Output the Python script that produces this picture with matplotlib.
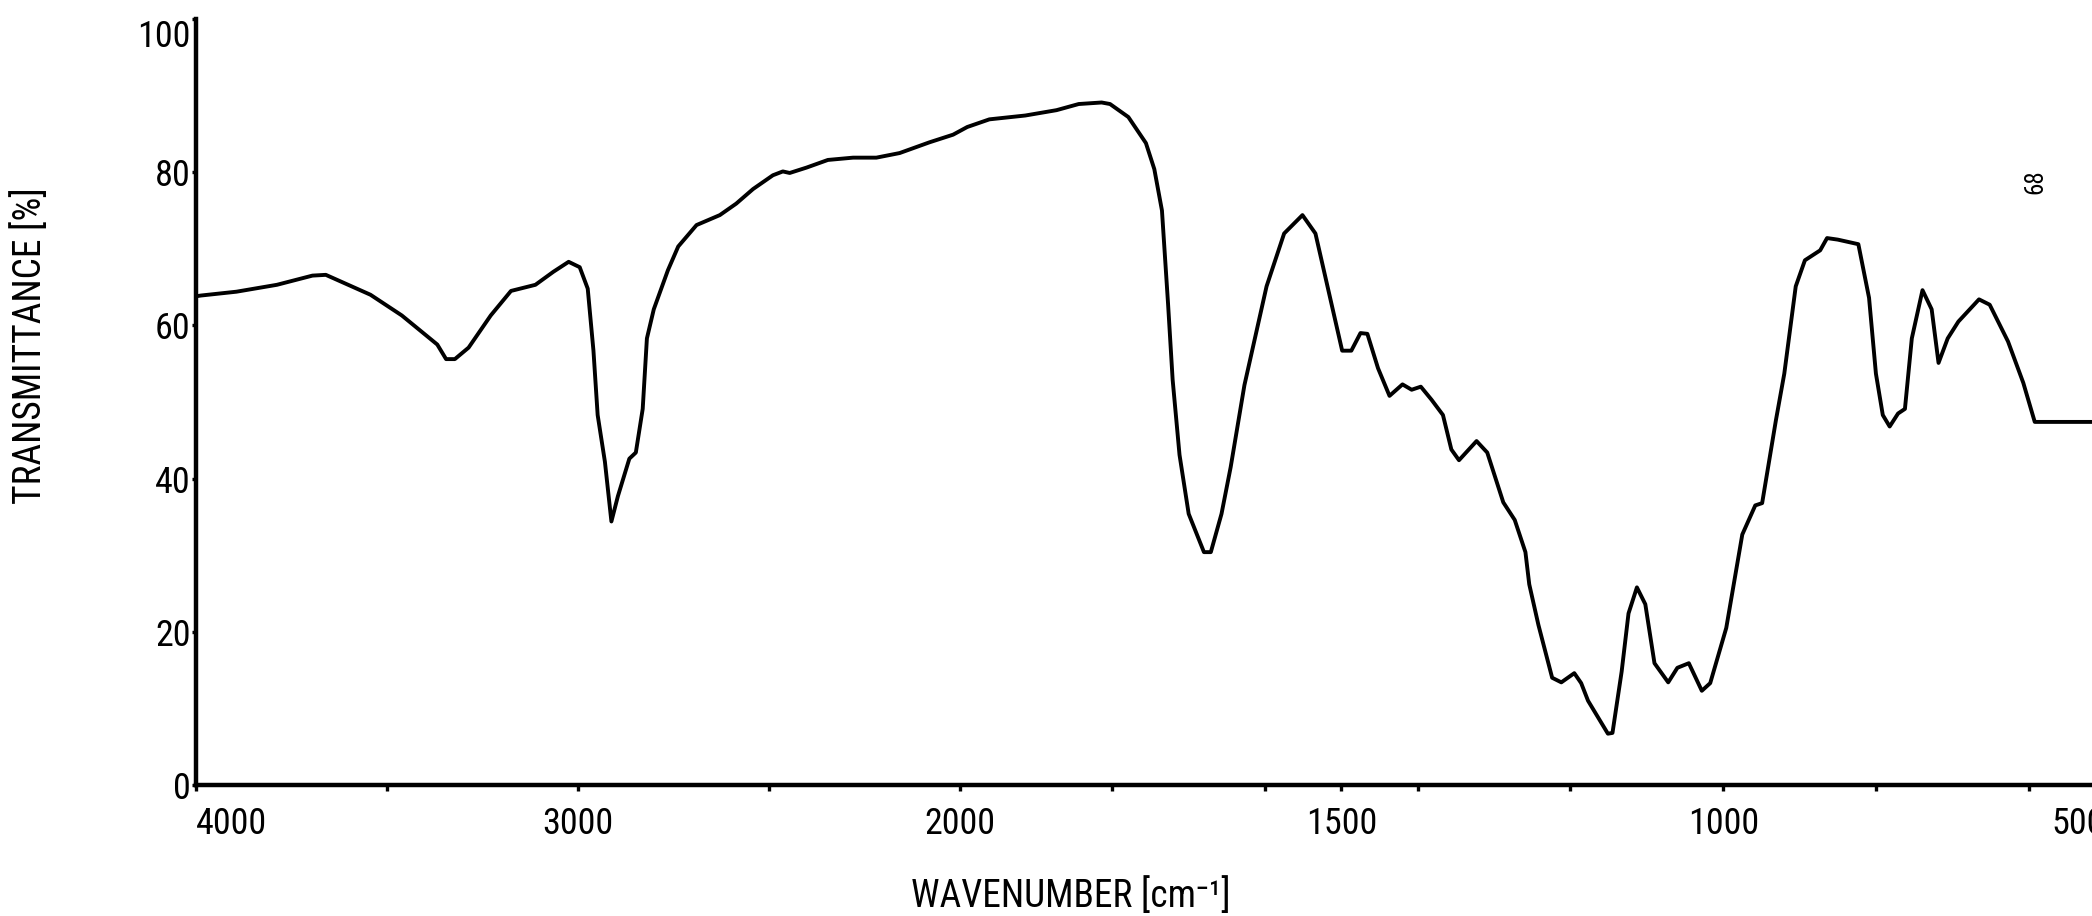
import numpy as np
import matplotlib
matplotlib.use("Agg")
import matplotlib.pyplot as plt
from matplotlib import font_manager
from matplotlib.ticker import FixedLocator, FixedFormatter

# IR 스펙트럼: 파수 [cm-1], 투과율 [%]
wavenumber = [4000, 3987, 3894, 3788, 3695, 3660, 3543, 3461, 3368, 3345,
              3322, 3286, 3228, 3175, 3111, 3064, 3024, 2995, 2974, 2959,
              2948, 2929, 2912, 2895, 2865, 2848, 2830, 2819, 2801, 2764,
              2737, 2689, 2628, 2585, 2541, 2489, 2463, 2445, 2401, 2345,
              2279, 2218, 2157, 2079, 2017,
              1990, 1961, 1914, 1873, 1844, 1814, 1803, 1779, 1756, 1745,
              1735, 1727, 1721, 1712, 1700, 1680, 1671, 1657, 1645, 1627,
              1598, 1575, 1551, 1534, 1513, 1499, 1487, 1475, 1466, 1452,
              1437, 1420, 1408, 1396, 1382, 1367, 1356, 1346, 1323, 1309,
              1288, 1273, 1259, 1254, 1242, 1224, 1212, 1195, 1186, 1177,
              1151, 1145, 1133, 1124, 1113, 1102, 1090, 1072, 1060, 1045,
              1028, 1017, 996, 975, 958, 949, 931, 920, 905, 893,
              873, 864, 850, 823, 809, 800, 791, 782, 771, 762,
              753, 739, 727, 718, 706, 692, 677, 665, 651, 627,
              607, 592, 500]

transmittance = [63.8, 63.9, 64.4, 65.3, 66.5, 66.6, 64.0, 61.3, 57.5, 55.6,
                 55.6, 57.1, 61.3, 64.5, 65.3, 67.0, 68.3, 67.6, 64.8, 56.7,
                 48.3, 42.2, 34.4, 37.7, 42.6, 43.4, 49.1, 58.3, 62.1, 67.2,
                 70.3, 73.1, 74.4, 75.9, 77.8, 79.6, 80.1, 79.9, 80.6, 81.6,
                 81.9, 81.9, 82.5, 83.9, 84.9,
                 85.9, 86.9, 87.4, 88.1, 88.9, 89.1, 88.9, 87.2, 83.8, 80.4,
                 75.0, 62.8, 52.9, 43.1, 35.4, 30.4, 30.4, 35.4, 41.5, 52.2,
                 65.1, 72.0, 74.4, 72.0, 62.8, 56.7, 56.7, 59.0, 58.9, 54.4,
                 50.8, 52.3, 51.6, 52.0, 50.3, 48.3, 43.8, 42.4, 44.9, 43.4,
                 36.9, 34.6, 30.4, 26.2, 20.9, 14.0, 13.4, 14.6, 13.3, 11.0,
                 6.7, 6.8, 14.8, 22.4, 25.8, 23.6, 15.9, 13.4, 15.3, 15.9,
                 12.3, 13.3, 20.5, 32.7, 36.5, 36.8, 47.6, 53.7, 65.1, 68.5,
                 69.8, 71.4, 71.2, 70.6, 63.6, 53.7, 48.3, 46.8, 48.5, 49.1,
                 58.3, 64.6, 62.1, 55.1, 58.3, 60.5, 62.1, 63.4, 62.7, 57.9,
                 52.5, 47.4, 47.4]

major_ticks = [4000, 3000, 2000, 1500, 1000, 500]
major_labels = ["4000", "3000", "2000", "1500", "1000", "500"]
minor_ticks = [3500, 2500, 1800, 1600, 1400, 1200, 800, 600]
y_ticks = [0, 20, 40, 60, 80, 100]
y_labels = ["0", "20", "40", "60", "80", "100"]

# 좁은 글꼴이 있으면 사용
available = {f.name for f in font_manager.fontManager.ttflist}
narrow = None
for cand in ["Liberation Sans Narrow", "Roboto Condensed", "Open Sans Condensed"]:
    if cand in available:
        narrow = cand
        break
if narrow is None:
    families = ["DejaVu Sans"]
    plt.rcParams["font.stretch"] = "condensed"
else:
    families = [narrow, "DejaVu Sans"]
plt.rcParams["font.family"] = families


# 2000 cm-1 에서 축척 변경 (4000-2000 구간은 절반 축척)
def fwd(w):
    w = np.asarray(w, dtype=float)
    return np.where(w > 2000, 2000 + (w - 2000) / 2.0, w)


def inv(u):
    u = np.asarray(u, dtype=float)
    return np.where(u > 2000, 2000 + (u - 2000) * 2.0, u)


W, H = 2092, 916
fig = plt.figure(figsize=(W / 100, H / 100), dpi=100)
ax = fig.add_axes([196 / W, 1 - 785 / H, (2105 - 196) / W, (785 - 19) / H])

ax.plot(wavenumber, transmittance, color="black", lw=2.8,
        solid_joinstyle="round", solid_capstyle="round")

ax.set_xscale("function", functions=(fwd, inv))
ax.set_xlim(4000, 500)
ax.set_ylim(0, 100)

ax.xaxis.set_major_locator(FixedLocator(major_ticks))
ax.xaxis.set_major_formatter(FixedFormatter(major_labels))
ax.xaxis.set_minor_locator(FixedLocator(minor_ticks))
ax.yaxis.set_major_locator(FixedLocator(y_ticks))
ax.yaxis.set_major_formatter(FixedFormatter(y_labels))

for side in ["top", "right"]:
    ax.spines[side].set_visible(False)
for side in ["left", "bottom"]:
    ax.spines[side].set_linewidth(3.2)

ax.tick_params(axis="x", which="both", direction="out", length=4, width=2.4,
               labelsize=26, pad=11)
ax.tick_params(axis="y", which="both", direction="out", length=3, width=2.4,
               labelsize=26, pad=1)

xl = ax.get_xticklabels()
xl[0].set_horizontalalignment("left")
xl[-1].set_horizontalalignment("right")
yl = ax.get_yticklabels()
yl[-1].set_verticalalignment("top")

fig.text(30 / W, 1 - 346 / H, "TRANSMITTANCE [%]", rotation=90,
         ha="center", va="center", fontsize=27)
fig.text(1071 / W, 1 - 896 / H, "WAVENUMBER [cm\u207b\u00b9]",
         ha="center", va="center", fontsize=27)
fig.text(2035 / W, 1 - 182 / H, "68", rotation=90,
         ha="center", va="center", fontsize=18)

fig.savefig("out.png", dpi=100)
